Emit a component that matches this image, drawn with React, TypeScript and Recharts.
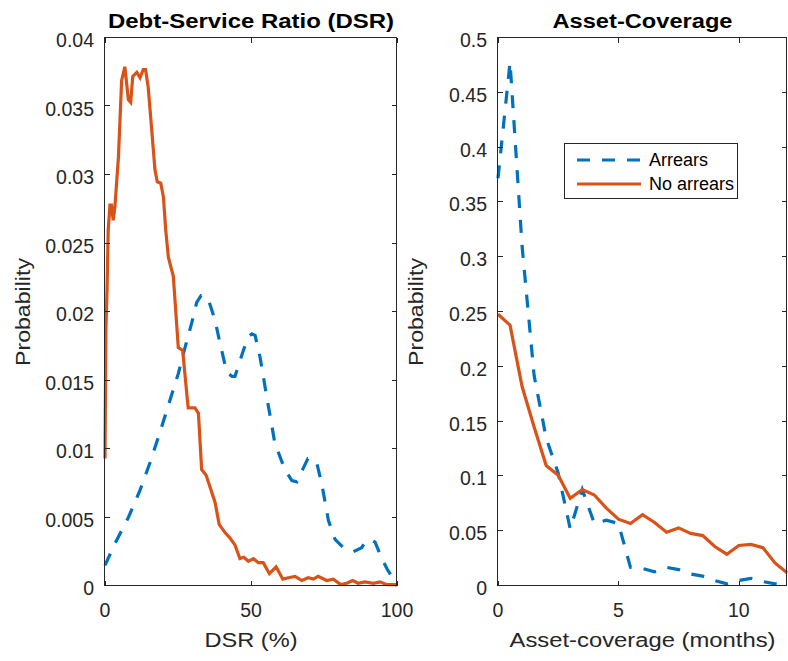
import React from 'react';
import { LineChart, Line, XAxis, YAxis, Legend, Label } from 'recharts';

const BLUE = '#0072BD';
const ORANGE = '#D95319';
const AXIS = '#262626';
const FONT = '"Liberation Sans", Arial, Helvetica, sans-serif';
const TICK_FONT = 19.5;
const DASH = '13 12';
const W = 788;
const H = 661;
const TOP = 38;
const X_AXIS_H = 75;
const TICK_LEN = 5;

// Debt-Service Ratio panel: x = DSR (%), y = probability
const dsrArrearsX = [0, 3.4, 8, 12, 15.4, 18.8, 22.3, 25.1, 27.4, 29.7, 31.4, 32.9, 34.2, 35.4, 37.7, 39.4, 41.7, 43.5, 44.5, 47.4, 49.1, 50.3, 51.4, 53.1, 55.4, 58.2, 61.6, 64, 65.7, 67.9, 69.5, 70.9, 72.5, 74.2, 76.5, 78.8, 81.6, 85, 87.9, 89.4, 90.8, 92.5, 94.8, 96.7, 98.5, 100];
const dsrArrearsY = [0.0015, 0.0031, 0.005, 0.007, 0.009, 0.0112, 0.0136, 0.0155, 0.0174, 0.0192, 0.0207, 0.0212, 0.0212, 0.0209, 0.0194, 0.0177, 0.0156, 0.0153, 0.0153, 0.0172, 0.0182, 0.0184, 0.0183, 0.0167, 0.0138, 0.0104, 0.0085, 0.0077, 0.0076, 0.0086, 0.0093, 0.0093, 0.009, 0.0075, 0.0048, 0.0034, 0.0028, 0.0025, 0.0028, 0.0033, 0.0034, 0.0032, 0.002, 0.0012, 0.0006, 0];
const dsrNoArrearsX = [0, 0.3, 0.7, 1.1, 1.7, 2.2, 2.8, 3.4, 4.6, 5.7, 6.8, 8, 8.8, 9.5, 10.9, 12, 13.1, 13.9, 14.8, 16, 17.1, 17.9, 19.1, 20, 20.8, 21.7, 23.4, 25.1, 26.6, 28.2, 28.5, 30.8, 32, 33.1, 34.6, 36, 37.7, 39.1, 41.1, 42.8, 44.5, 46.2, 47.6, 49.1, 50.8, 52.5, 54.2, 56.3, 58.6, 60.9, 62.8, 65.1, 67.4, 69.6, 71.3, 73, 75.9, 78.2, 80.7, 82.8, 84.8, 86.7, 89, 91.9, 94.2, 96.5, 98.5, 100];
const dsrNoArrearsY = [0.0093, 0.0187, 0.0216, 0.026, 0.0278, 0.0278, 0.0267, 0.0277, 0.0313, 0.0369, 0.0379, 0.0355, 0.0353, 0.0372, 0.0375, 0.0371, 0.0377, 0.0377, 0.0364, 0.0333, 0.0304, 0.0295, 0.0294, 0.0284, 0.026, 0.024, 0.0226, 0.0174, 0.0172, 0.0136, 0.013, 0.013, 0.0126, 0.0085, 0.0081, 0.0072, 0.0061, 0.0045, 0.0039, 0.0035, 0.003, 0.002, 0.0021, 0.0018, 0.002, 0.0017, 0.0017, 0.0009, 0.0014, 0.0005, 0.0006, 0.0007, 0.0004, 0.0006, 0.0005, 0.0007, 0.0004, 0.0005, 0.0001, 0.0002, 0.0004, 0.0002, 0.0003, 0.0002, 0.0003, 0.0001, 0.0001, 0.0001];
const dsrXTicks = [0, 50, 100];
const dsrYTicks = [0, 0.005, 0.01, 0.015, 0.02, 0.025, 0.03, 0.035, 0.04];

// Asset-coverage panel: x = months, y = probability
const acMonths = [0, 0.5, 1, 1.5, 2, 2.5, 3, 3.5, 4, 4.5, 5, 5.5, 6, 6.5, 7, 7.5, 8, 8.5, 9, 9.5, 10, 10.5, 11, 11.5, 12];
const acArrears = [0.372, 0.478, 0.31, 0.192, 0.135, 0.103, 0.052, 0.088, 0.057, 0.06, 0.057, 0.017, 0.016, 0.013, 0.017, 0.015, 0.011, 0.009, 0.005, 0.002, 0.005, 0.007, 0.004, 0.002, 0.001];
const acNoArrears = [0.248, 0.238, 0.182, 0.145, 0.11, 0.101, 0.08, 0.088, 0.083, 0.071, 0.061, 0.057, 0.065, 0.058, 0.049, 0.053, 0.048, 0.046, 0.036, 0.029, 0.037, 0.038, 0.035, 0.021, 0.012];
const acXTicks = [0, 5, 10];
const acYTicks = [0, 0.05, 0.1, 0.15, 0.2, 0.25, 0.3, 0.35, 0.4, 0.45, 0.5];

const seriesNames = ['Arrears', 'No arrears'];

type Pt = { x: number; y: number };

const toPoints = (xs: number[], ys: number[]): Pt[] => xs.map((x, i) => ({ x, y: ys[i] }));

// text stretched to the measured width of the reference
const stretched = (value: string, len: number, bold = false) => ({
  fontSize: 20,
  fontFamily: FONT,
  fontWeight: bold ? 700 : 400,
  fill: bold ? '#000' : AXIS,
  textLength: len,
  lengthAdjust: 'spacingAndGlyphs',
  children: value,
});

// small HTML block inside the svg, used for the inward tick marks
const Mark = ({ x, y, w, h }: { x: number; y: number; w: number; h: number }) => (
  <foreignObject x={x} y={y} width={w} height={h}>
    <div style={{ width: w, height: h, background: AXIS }} />
  </foreignObject>
);

const LegendBox = () => (
  <div
    style={{
      width: 174,
      height: 56,
      boxSizing: 'border-box',
      border: `1px solid ${AXIS}`,
      background: '#fff',
      paddingTop: 4,
      fontFamily: FONT,
      fontSize: 18,
      color: '#000',
    }}
  >
    {seriesNames.map((name, i) => (
      <div key={name} style={{ display: 'flex', alignItems: 'center', height: 24 }}>
        <svg width={77} height={6} style={{ flex: 'none' }}>
          <line
            x1={12}
            x2={76}
            y1={3}
            y2={3}
            stroke={i === 0 ? BLUE : ORANGE}
            strokeWidth={3}
            strokeDasharray={i === 0 ? DASH : undefined}
          />
        </svg>
        <span style={{ marginLeft: 7, lineHeight: '24px' }}>{name}</span>
      </div>
    ))}
  </div>
);

interface PanelProps {
  title: string;
  titleLen: number;
  xLabel: string;
  xLabelLen: number;
  arrears: Pt[];
  noArrears: Pt[];
  xDomain: [number, number];
  xTicks: number[];
  yDomain: [number, number];
  yTicks: number[];
  left: number;
  right: number;
  showLegend?: boolean;
}

const Panel = (p: PanelProps) => {
  const plotL = p.left;
  const plotR = W - p.right;
  const plotT = TOP;
  const plotB = H - X_AXIS_H;

  // y tick label plus inward marks on the left and right edges
  const leftTick = ({ x, y, payload }: any) => (
    <g>
      <Mark x={plotL} y={Math.round(y) - 1} w={TICK_LEN} h={1} />
      <Mark x={plotR - TICK_LEN} y={Math.round(y) - 1} w={TICK_LEN} h={1} />
      <text x={x} y={y} dy={TICK_FONT * 0.36 + 2} textAnchor="end" fontSize={TICK_FONT} fontFamily={FONT} fill={AXIS}>
        {payload.value}
      </text>
    </g>
  );

  // x tick label plus inward marks on the bottom and top edges
  const bottomTick = ({ x, y, payload }: any) => (
    <g>
      <Mark x={Math.round(x)} y={plotB - TICK_LEN} w={1} h={TICK_LEN} />
      <Mark x={Math.round(x)} y={plotT} w={1} h={TICK_LEN} />
      <text x={x} y={y} dy={TICK_FONT * 0.71} textAnchor="middle" fontSize={TICK_FONT} fontFamily={FONT} fill={AXIS}>
        {payload.value}
      </text>
    </g>
  );

  return (
    <div style={{ position: 'absolute', left: 0, top: 0 }}>
      <LineChart width={W} height={H} margin={{ top: TOP, right: p.right, bottom: 0, left: 0 }}>
        <XAxis
          dataKey="x"
          type="number"
          domain={p.xDomain}
          ticks={p.xTicks}
          interval={0}
          height={X_AXIS_H}
          tickSize={0}
          tickMargin={17}
          tick={bottomTick}
          axisLine={false}
          tickLine={false}
        >
          <Label
            content={(lp: any) => {
              const vb = lp.viewBox || {};
              return <text x={vb.x + vb.width / 2} y={vb.y + 61} textAnchor="middle" {...stretched(p.xLabel, p.xLabelLen)} />;
            }}
          />
        </XAxis>
        <YAxis
          type="number"
          domain={p.yDomain}
          ticks={p.yTicks}
          interval={0}
          width={p.left}
          tickSize={0}
          tickMargin={11}
          tick={leftTick}
          axisLine={false}
          tickLine={false}
        >
          <Label
            content={(lp: any) => {
              const vb = lp.viewBox || {};
              const lx = vb.x + vb.width - 75;
              const ly = vb.y + vb.height / 2;
              return (
                <g>
                  <text x={lx} y={ly} textAnchor="middle" transform={`rotate(-90 ${lx} ${ly})`} {...stretched('Probability', 108)} />
                  <text x={(plotL + plotR) / 2} y={plotT - 10} textAnchor="middle" {...stretched(p.title, p.titleLen, true)} />
                </g>
              );
            }}
          />
        </YAxis>
        <Line
          data={p.arrears}
          dataKey="y"
          name={seriesNames[0]}
          stroke={BLUE}
          strokeWidth={3.2}
          strokeDasharray={DASH}
          dot={false}
          activeDot={false}
          isAnimationActive={false}
        />
        <Line
          data={p.noArrears}
          dataKey="y"
          name={seriesNames[1]}
          stroke={ORANGE}
          strokeWidth={3.2}
          dot={false}
          activeDot={false}
          isAnimationActive={false}
        />
        {p.showLegend && (
          <Legend
            layout="horizontal"
            verticalAlign="middle"
            align="center"
            content={() => <LegendBox />}
            wrapperStyle={{ left: 564, top: 143, width: 174, height: 56 }}
          />
        )}
      </LineChart>
      {/* axes box as a plain HTML frame over the plot area */}
      <div
        style={{
          position: 'absolute',
          left: plotL - 1,
          top: plotT - 1,
          width: plotR - plotL + 1,
          height: plotB - plotT + 1,
          boxSizing: 'border-box',
          border: `1px solid ${AXIS}`,
          pointerEvents: 'none',
        }}
      />
    </div>
  );
};

export default function App() {
  return (
    <div style={{ position: 'absolute', left: 0, top: 0, width: W, height: H, background: '#fff', overflow: 'hidden' }}>
      <Panel
        title="Debt-Service Ratio (DSR)"
        titleLen={286}
        xLabel="DSR (%)"
        xLabelLen={93}
        arrears={toPoints(dsrArrearsX, dsrArrearsY)}
        noArrears={toPoints(dsrNoArrearsX, dsrNoArrearsY)}
        xDomain={[0, 100]}
        xTicks={dsrXTicks}
        yDomain={[0, 0.04]}
        yTicks={dsrYTicks}
        left={105}
        right={391}
      />
      <Panel
        title="Asset-Coverage"
        titleLen={180}
        xLabel="Asset-coverage (months)"
        xLabelLen={266}
        arrears={toPoints(acMonths, acArrears)}
        noArrears={toPoints(acMonths, acNoArrears)}
        xDomain={[0, 12]}
        xTicks={acXTicks}
        yDomain={[0, 0.5]}
        yTicks={acYTicks}
        left={498}
        right={1}
        showLegend
      />
    </div>
  );
}
